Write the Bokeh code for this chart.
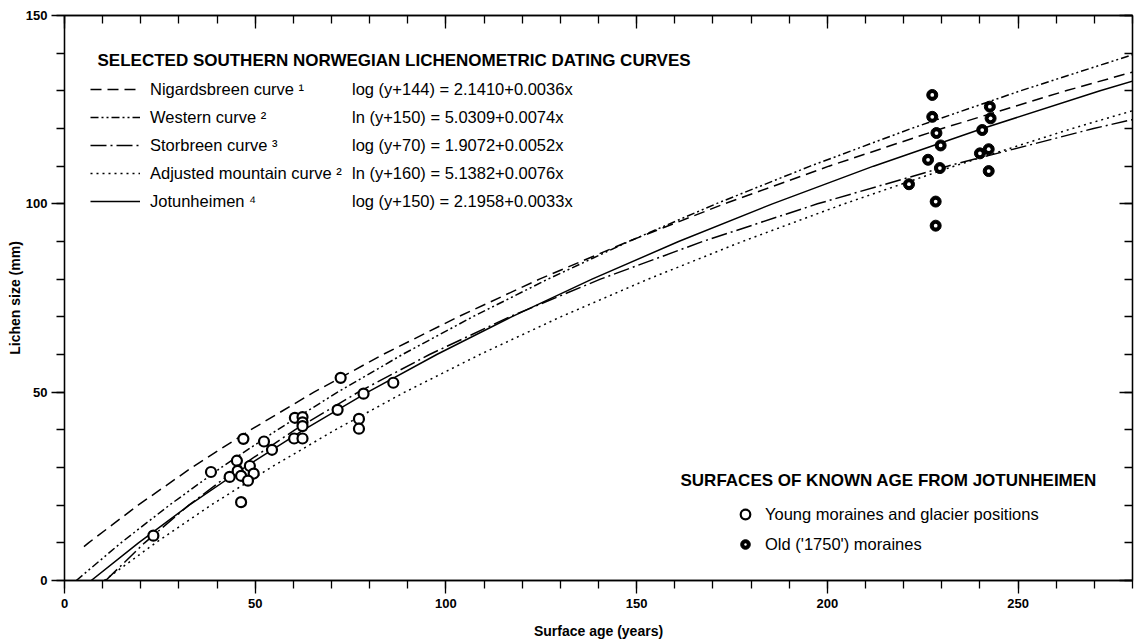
from bokeh.plotting import figure
from bokeh.models import (LinearAxis, SingleIntervalTicker, Legend, LegendItem,
                          Label, Range1d)
from bokeh.embed import file_html
from bokeh.resources import INLINE

# ---------------- data (lichen size in mm, surface age in years) ----------------
nig_size = [9, 10, 20, 30, 40, 50, 60, 70, 80, 90, 100, 110, 120, 130, 140]
nig_age = [5.1, 6.3, 19.3, 33.4, 48.8, 65.4, 83.5, 103.2, 124.5, 147.8, 173.0, 200.4, 230.1, 262.5, 297.6]

west_size = [0, 10, 20, 30, 40, 50, 60, 70, 80, 90, 100, 110, 120, 130, 140]
west_age = [3.1, 14.8, 27.5, 41.1, 55.8, 71.6, 88.6, 107.0, 126.7, 147.9, 170.8, 195.5, 222.0, 250.6, 281.3]

stor_size = [0, 10, 20, 30, 40, 50, 60, 70, 80, 90, 100, 110, 120, 130]
stor_age = [10.8, 21.0, 32.6, 45.7, 60.4, 77.0, 95.7, 116.7, 140.5, 167.3, 197.4, 231.5, 269.8, 313.0]

adj_size = [0, 10, 20, 30, 40, 50, 60, 70, 80, 90, 100, 110, 120, 130]
adj_age = [10.4, 23.9, 38.4, 54.1, 71.0, 89.2, 108.9, 130.1, 153.0, 177.7, 204.4, 233.2, 264.2, 297.7]

jot_size = [0, 10, 20, 30, 40, 50, 60, 70, 80, 90, 100, 110, 120, 130, 140]
jot_age = [7.0, 19.4, 32.7, 47.2, 62.7, 79.5, 97.6, 117.2, 138.3, 161.0, 185.6, 212.1, 240.7, 271.5, 304.8]

young_age = [23.3, 38.4, 46.9, 52.3, 54.4, 45.2, 48.6, 43.3, 45.4, 46.3, 49.6, 48.1, 46.3,
             60.4, 62.4, 62.4, 62.4, 60.2, 62.4, 72.4, 71.6, 78.4, 86.2, 77.2, 77.2]
young_size = [11.9, 28.8, 37.6, 36.9, 34.7, 31.8, 30.4, 27.5, 29.1, 27.8, 28.4, 26.5, 20.8,
              43.2, 43.4, 42.0, 41.0, 37.7, 37.7, 53.8, 45.3, 49.6, 52.5, 42.9, 40.3]

old_age = [227.5, 227.5, 228.6, 229.7, 226.4, 229.5, 221.4, 228.4, 228.4,
           242.6, 242.8, 240.6, 240.0, 242.3, 242.3]
old_size = [128.9, 123.1, 118.8, 115.5, 111.7, 109.5, 105.2, 100.6, 94.2,
            125.8, 122.7, 119.6, 113.4, 114.5, 108.7]

curve_names = ["Nigardsbreen curve \u00b9", "Western curve \u00b2", "Storbreen curve \u00b3",
               "Adjusted mountain curve \u00b2", "Jotunheimen \u2074"]
curve_formulas = ["log (y+144) = 2.1410+0.0036x", "ln (y+150) = 5.0309+0.0074x",
                  "log (y+70) = 1.9072+0.0052x", "ln (y+160) = 5.1382+0.0076x",
                  "log (y+150) = 2.1958+0.0033x"]
point_names = ["Young moraines and glacier positions", "Old ('1750') moraines"]

FONT = "Liberation Sans"

p = figure(width=1134, height=643, x_range=Range1d(0, 280), y_range=Range1d(0, 150),
           output_backend="svg", toolbar_location=None,
           min_border_left=64, min_border_right=2, min_border_top=15, min_border_bottom=63,
           background_fill_color="white", border_fill_color="white")
p.grid.visible = False
p.outline_line_color = "black"
p.outline_line_width = 1.3

def style_axis(ax, inward=False, labels=True):
    ax.ticker = SingleIntervalTicker(interval=50, num_minor_ticks=5)
    ax.axis_line_color = "black"
    ax.axis_line_width = 1.3
    ax.major_tick_line_color = "black"
    ax.minor_tick_line_color = "black"
    ax.major_tick_line_width = 1.3
    ax.minor_tick_line_width = 1.3
    if inward:
        ax.major_tick_in, ax.major_tick_out = 13, 0
        ax.minor_tick_in, ax.minor_tick_out = 8, 0
    else:
        ax.major_tick_in, ax.major_tick_out = 0, 13
        ax.minor_tick_in, ax.minor_tick_out = 0, 8
    if labels:
        ax.major_label_text_font = FONT
        ax.major_label_text_font_size = "13px"
        ax.major_label_text_font_style = "bold"
        ax.major_label_text_color = "black"
        ax.axis_label_text_font = FONT
        ax.axis_label_text_font_size = "14px"
        ax.axis_label_text_font_style = "bold"
        ax.axis_label_text_color = "black"
    else:
        ax.major_label_text_color = None
        ax.major_label_standoff = 0

xa = p.xaxis[0]
style_axis(xa)
xa.axis_label = "Surface age (years)"
xa.major_label_standoff = 5
xa.axis_label_standoff = 12
ya = p.yaxis[0]
style_axis(ya)
ya.axis_label = "Lichen size (mm)"
ya.major_label_standoff = 4
ya.axis_label_standoff = 0

top = LinearAxis()
style_axis(top, inward=True, labels=False)
p.add_layout(top, "above")
right = LinearAxis()
style_axis(right, inward=True, labels=False)
p.add_layout(right, "right")

# ---------------- curves ----------------
lw = 1.5
r_nig = p.line(nig_age, nig_size, line_color="black", line_width=lw, line_dash="11 6")
r_west = p.line(west_age, west_size, line_color="black", line_width=lw, line_dash="8 3 2 3 2 3")
r_stor = p.line(stor_age, stor_size, line_color="black", line_width=lw, line_dash="16 4 2 4")
r_adj = p.line(adj_age, adj_size, line_color="black", line_width=lw, line_dash="2 4")
r_jot = p.line(jot_age, jot_size, line_color="black", line_width=lw)
curve_renderers = [r_nig, r_west, r_stor, r_adj, r_jot]

# ---------------- points ----------------
r_young = p.scatter(young_age, young_size, marker="circle", size=10, fill_color="white",
                    line_color="black", line_width=2.2)
r_old = p.scatter(old_age, old_size, marker="circle", size=11, fill_color="black",
                  line_color="black", line_width=1)
r_old_dot = p.scatter(old_age, old_size, marker="dot", size=15, fill_color="white",
                      line_color="white", line_width=1)

# ---------------- legends ----------------
def plain_legend(items, loc, glyph_w, standoff, row_h):
    lg = Legend(items=items, location=loc, orientation="vertical")
    lg.background_fill_alpha = 0
    lg.border_line_color = None
    lg.padding = 0
    lg.margin = 0
    lg.spacing = 0
    lg.glyph_width = glyph_w
    lg.glyph_height = row_h
    lg.label_height = row_h
    lg.label_standoff = standoff
    lg.label_text_font = FONT
    lg.label_text_font_size = "16.5px"
    lg.label_text_color = "black"
    lg.click_policy = "none"
    return lg

leg_names = plain_legend([LegendItem(label=n, renderers=[r]) for n, r in zip(curve_names, curve_renderers)],
                         (26, 365), 50, 10, 28)
leg_formulas = plain_legend([LegendItem(label=f, renderers=[r]) for f, r in zip(curve_formulas, curve_renderers)],
                            (288, 365), 0, 0, 28)
leg_points = plain_legend([LegendItem(label=point_names[0], renderers=[r_young]),
                           LegendItem(label=point_names[1], renderers=[r_old, r_old_dot])],
                          (669, 21), 24, 8, 30)
for lg in (leg_names, leg_formulas, leg_points):
    p.add_layout(lg, "center")

title1 = Label(x=33, y=520, x_units="screen", y_units="screen",
               text="SELECTED SOUTHERN NORWEGIAN LICHENOMETRIC DATING CURVES",
               text_font=FONT, text_font_size="17px", text_font_style="bold",
               text_baseline="middle", text_color="black")
title2 = Label(x=616, y=100, x_units="screen", y_units="screen",
               text="SURFACES OF KNOWN AGE FROM JOTUNHEIMEN",
               text_font=FONT, text_font_size="17px", text_font_style="bold",
               text_baseline="middle", text_color="black")
p.add_layout(title1)
p.add_layout(title2)

open("out.html", "w").write(file_html(p, INLINE))
